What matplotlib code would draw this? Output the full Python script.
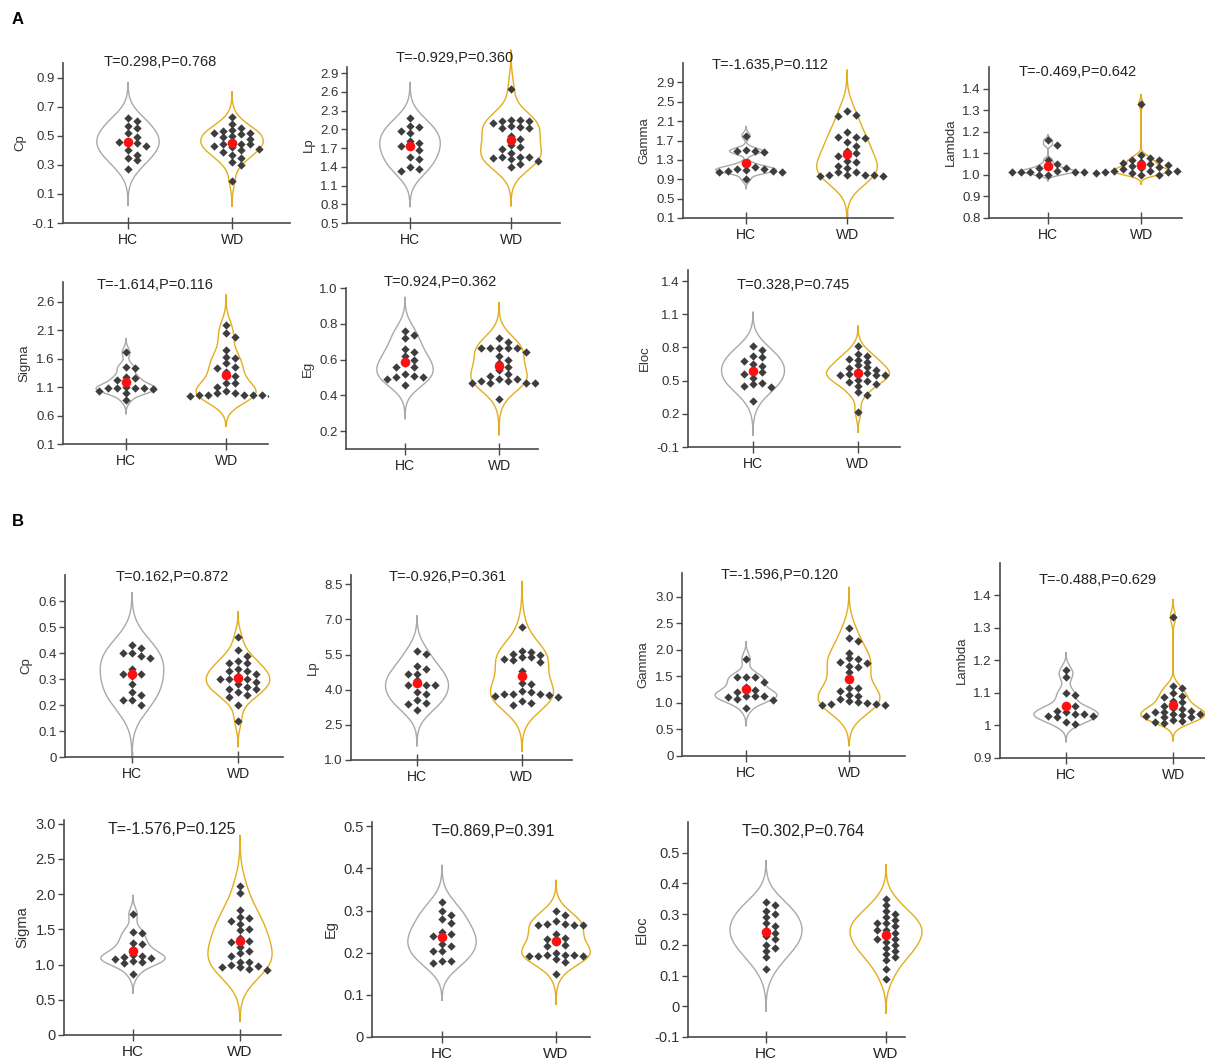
import numpy as np
import matplotlib
matplotlib.use('Agg')
import matplotlib.pyplot as plt

plt.rcParams['font.family'] = ['Liberation Sans', 'DejaVu Sans']

groups = ['HC', 'WD']

# ---- Section A ----
cp_a_hc = [0.62, 0.60, 0.57, 0.55, 0.52, 0.49, 0.46, 0.46, 0.45, 0.43, 0.40, 0.37, 0.35, 0.33, 0.27]
cp_a_wd = [0.63, 0.58, 0.55, 0.54, 0.53, 0.52, 0.52, 0.51, 0.50, 0.49, 0.48, 0.46, 0.44, 0.44,
           0.44, 0.43, 0.42, 0.41, 0.40, 0.39, 0.37, 0.35, 0.32, 0.30, 0.19]
lp_a_hc = [2.18, 2.05, 2.04, 1.97, 1.94, 1.82, 1.78, 1.73, 1.73, 1.67, 1.55, 1.52, 1.40, 1.37, 1.34]
lp_a_wd = [2.65, 2.15, 2.15, 2.14, 2.13, 2.10, 2.05, 2.04, 2.03, 2.02, 1.90, 1.85, 1.75, 1.72,
           1.68, 1.62, 1.56, 1.55, 1.55, 1.54, 1.53, 1.50, 1.45, 1.40]
gamma_a_hc = [1.80, 1.50, 1.48, 1.48, 1.47, 1.22, 1.15, 1.12, 1.12, 1.10, 1.08, 1.07, 1.06, 1.05, 0.90]
gamma_a_wd = [2.31, 2.22, 2.20, 1.87, 1.78, 1.77, 1.76, 1.67, 1.58, 1.48, 1.44, 1.37, 1.27, 1.26,
              1.18, 1.14, 1.05, 1.04, 0.98, 0.98, 0.97, 0.98, 0.97, 0.98]
lambda_a_hc = [1.16, 1.14, 1.07, 1.05, 1.04, 1.03, 1.03, 1.02, 1.015, 1.015, 1.015, 1.015, 1.015, 1.0, 1.0]
lambda_a_wd = [1.33, 1.09, 1.08, 1.07, 1.07, 1.06, 1.055, 1.05, 1.045, 1.04, 1.035, 1.03, 1.025,
               1.02, 1.02, 1.02, 1.015, 1.015, 1.015, 1.01, 1.01, 1.01, 1.0, 1.0]
sigma_a_hc = [1.71, 1.45, 1.44, 1.27, 1.26, 1.22, 1.10, 1.09, 1.09, 1.08, 1.08, 1.06, 1.04, 1.00, 0.88]
sigma_a_wd = [2.19, 2.05, 1.99, 1.76, 1.63, 1.62, 1.53, 1.45, 1.44, 1.37, 1.30, 1.18, 1.17, 1.10,
              1.04, 1.00, 0.99, 0.97, 0.96, 0.96, 0.96, 0.96, 0.95, 0.95]
eg_a_hc = [0.76, 0.74, 0.72, 0.66, 0.64, 0.62, 0.60, 0.58, 0.56, 0.56, 0.52, 0.51, 0.50, 0.50, 0.49, 0.46]
eg_a_wd = [0.72, 0.70, 0.665, 0.665, 0.665, 0.665, 0.665, 0.64, 0.62, 0.60, 0.58, 0.56, 0.54, 0.52,
           0.51, 0.49, 0.49, 0.48, 0.48, 0.47, 0.47, 0.47, 0.47, 0.38]
eloc_a_hc = [0.81, 0.78, 0.72, 0.71, 0.68, 0.65, 0.63, 0.60, 0.58, 0.56, 0.52, 0.48, 0.47, 0.45, 0.44, 0.32]
eloc_a_wd = [0.81, 0.74, 0.72, 0.70, 0.69, 0.67, 0.64, 0.62, 0.61, 0.60, 0.58, 0.57, 0.56, 0.55,
             0.55, 0.55, 0.51, 0.50, 0.49, 0.47, 0.45, 0.40, 0.37, 0.22]

# ---- Section B ----
cp_b_hc = [0.43, 0.42, 0.40, 0.40, 0.39, 0.38, 0.34, 0.32, 0.32, 0.31, 0.28, 0.25, 0.24, 0.22, 0.22, 0.20]
cp_b_wd = [0.46, 0.41, 0.39, 0.37, 0.36, 0.36, 0.34, 0.33, 0.33, 0.32, 0.31, 0.30, 0.30, 0.30,
           0.29, 0.28, 0.27, 0.26, 0.26, 0.25, 0.24, 0.23, 0.20, 0.14]
lp_b_hc = [5.64, 5.54, 5.00, 4.88, 4.68, 4.66, 4.40, 4.22, 4.20, 4.19, 3.90, 3.80, 3.55, 3.43, 3.40, 3.14]
lp_b_wd = [6.67, 5.64, 5.63, 5.52, 5.50, 5.40, 5.38, 5.30, 5.28, 5.20, 4.80, 4.30, 4.25, 3.93,
           3.90, 3.82, 3.80, 3.80, 3.78, 3.72, 3.70, 3.52, 3.45, 3.35]
gamma_b_hc = [1.83, 1.49, 1.49, 1.48, 1.40, 1.30, 1.24, 1.20, 1.14, 1.13, 1.13, 1.12, 1.08, 1.06, 0.90]
gamma_b_wd = [2.41, 2.22, 2.17, 1.95, 1.84, 1.83, 1.77, 1.76, 1.70, 1.68, 1.58, 1.29, 1.28, 1.22,
              1.15, 1.13, 1.07, 1.03, 1.02, 0.99, 0.98, 0.98, 0.97, 0.97]
lambda_b_hc = [1.17, 1.15, 1.10, 1.095, 1.06, 1.06, 1.045, 1.04, 1.035, 1.035, 1.03, 1.03, 1.025, 1.01, 1.005]
lambda_b_wd = [1.333, 1.12, 1.114, 1.10, 1.09, 1.088, 1.075, 1.072, 1.06, 1.055, 1.05, 1.045,
               1.042, 1.04, 1.036, 1.035, 1.033, 1.03, 1.027, 1.025, 1.018, 1.015, 1.012, 1.008]
sigma_b_hc = [1.71, 1.46, 1.44, 1.31, 1.29, 1.22, 1.13, 1.12, 1.11, 1.09, 1.08, 1.05, 1.03, 1.02, 0.87]
sigma_b_wd = [2.11, 2.02, 1.78, 1.68, 1.66, 1.62, 1.57, 1.51, 1.49, 1.38, 1.34, 1.32, 1.25, 1.19,
              1.17, 1.12, 1.04, 1.03, 0.99, 0.98, 0.97, 0.96, 0.93, 0.92]
eg_b_hc = [0.32, 0.30, 0.29, 0.28, 0.27, 0.25, 0.245, 0.24, 0.235, 0.22, 0.215, 0.205, 0.205, 0.18, 0.18, 0.175]
eg_b_wd = [0.30, 0.29, 0.275, 0.267, 0.267, 0.266, 0.266, 0.265, 0.245, 0.235, 0.232, 0.225,
           0.218, 0.215, 0.20, 0.195, 0.194, 0.194, 0.193, 0.193, 0.192, 0.186, 0.178, 0.15]
eloc_b_hc = [0.34, 0.33, 0.31, 0.30, 0.29, 0.27, 0.26, 0.25, 0.24, 0.23, 0.22, 0.20, 0.19, 0.18, 0.16, 0.12]
eloc_b_wd = [0.35, 0.33, 0.31, 0.30, 0.29, 0.28, 0.27, 0.27, 0.26, 0.25, 0.25, 0.24, 0.23, 0.22,
             0.22, 0.21, 0.20, 0.19, 0.18, 0.17, 0.16, 0.15, 0.12, 0.09]

titles = ['T=0.298,P=0.768', 'T=-0.929,P=0.360', 'T=-1.635,P=0.112', 'T=-0.469,P=0.642',
          'T=-1.614,P=0.116', 'T=0.924,P=0.362', 'T=0.328,P=0.745',
          'T=0.162,P=0.872', 'T=-0.926,P=0.361', 'T=-1.596,P=0.120', 'T=-0.488,P=0.629',
          'T=-1.576,P=0.125', 'T=0.869,P=0.391', 'T=0.302,P=0.764']
ylabels = ['Cp', 'Lp', 'Gamma', 'Lambda', 'Sigma', 'Eg', 'Eloc'] * 2
series = [(cp_a_hc, cp_a_wd), (lp_a_hc, lp_a_wd), (gamma_a_hc, gamma_a_wd), (lambda_a_hc, lambda_a_wd),
          (sigma_a_hc, sigma_a_wd), (eg_a_hc, eg_a_wd), (eloc_a_hc, eloc_a_wd),
          (cp_b_hc, cp_b_wd), (lp_b_hc, lp_b_wd), (gamma_b_hc, gamma_b_wd), (lambda_b_hc, lambda_b_wd),
          (sigma_b_hc, sigma_b_wd), (eg_b_hc, eg_b_wd), (eloc_b_hc, eloc_b_wd)]
yticks = [
    (['-0.1', '0.1', '0.3', '0.5', '0.7', '0.9'], (-0.1, 1.0)),
    (['0.5', '0.8', '1.1', '1.4', '1.7', '2.0', '2.3', '2.6', '2.9'], (0.5, 3.0)),
    (['0.1', '0.5', '0.9', '1.3', '1.7', '2.1', '2.5', '2.9'], (0.1, 3.3)),
    (['0.8', '0.9', '1.0', '1.1', '1.2', '1.3', '1.4'], (0.8, 1.5)),
    (['0.1', '0.6', '1.1', '1.6', '2.1', '2.6'], (0.1, 2.95)),
    (['0.2', '0.4', '0.6', '0.8', '1.0'], (0.1, 1.0)),
    (['-0.1', '0.2', '0.5', '0.8', '1.1', '1.4'], (-0.1, 1.5)),
    (['0', '0.1', '0.2', '0.3', '0.4', '0.5', '0.6'], (0, 0.7)),
    (['1.0', '2.5', '4.0', '5.5', '7.0', '8.5'], (1.0, 8.9)),
    (['0', '0.5', '1.0', '1.5', '2.0', '2.5', '3.0'], (0, 3.45)),
    (['0.9', '1', '1.1', '1.2', '1.3', '1.4'], (0.9, 1.5)),
    (['0', '0.5', '1.0', '1.5', '2.0', '2.5', '3.0'], (0, 3.05)),
    (['0', '0.1', '0.2', '0.3', '0.4', '0.5'], (0, 0.51)),
    (['-0.1', '0', '0.1', '0.2', '0.3', '0.4', '0.5'], (-0.1, 0.6)),
]

# layout in pixels: left, right, top, bottom, HC x, WD x, title x, title y
layout = [
    (63, 290, 63, 223, 128, 232, 160, 62),
    (347, 560, 67, 223, 410, 511, 455, 58),
    (683, 893, 63, 218, 746, 847, 770, 65),
    (989, 1182, 67, 218, 1048, 1141, 1078, 72),
    (63, 268, 282, 444, 126, 226, 155, 285),
    (346, 538, 288, 449, 405, 499, 440, 282),
    (688, 900, 270, 447, 753, 858, 793, 285),
    (65, 283, 575, 757, 132, 238, 172, 577),
    (351, 572, 575, 760, 417, 522, 448, 577),
    (682, 905, 573, 756, 746, 849, 780, 575),
    (1000, 1205, 563, 758, 1066, 1173, 1098, 580),
    (64, 281, 820, 1035, 133, 240, 172, 829),
    (372, 590, 822, 1037, 442, 556, 493, 831),
    (688, 905, 822, 1037, 766, 886, 803, 832),
]

W, H = 1205, 1064
fig = plt.figure(figsize=(W / 100, H / 100), dpi=100)
axis_col = '#4a4a4a'
hc_col = '#a9a9a9'
wd_col = '#e3ad1c'


def kde_outline(vals):
    v = np.asarray(vals, float)
    n = len(v)
    mad = np.median(np.abs(v - np.median(v)))
    sig = mad / 0.6745 if mad > 0 else v.std()
    bw = sig * (4 / (3 * n)) ** 0.2
    y = np.linspace(v.min() - 3 * bw, v.max() + 3 * bw, 300)
    d = np.exp(-0.5 * ((y[:, None] - v[None, :]) / bw) ** 2).sum(1)
    return y, d / d.max()


def swarm_x(ax, x0, vals, min_d=5.5, step=9.0):
    v = np.asarray(vals, float)
    pts = ax.transData.transform(np.column_stack([np.full(len(v), x0), v]))
    placed = []
    out = pts.copy()
    for i in np.argsort(-v):
        px, py = pts[i]
        k = 0
        found = None
        while found is None:
            offs = [0.0] if k == 0 else [k * step, -k * step]
            for o in offs:
                if all((px + o - qx) ** 2 + (py - qy) ** 2 >= min_d ** 2 for qx, qy in placed):
                    found = o
                    break
            k += 1
        placed.append((px + found, py))
        out[i, 0] = px + found
    return ax.transData.inverted().transform(out)[:, 0]


for idx in range(14):
    l, r, t, b, hx, wx, tx, ty = layout[idx]
    ax = fig.add_axes([l / W, 1 - b / H, (r - l) / W, (b - t) / H])
    sp = wx - hx
    ax.set_xlim(1 - (hx - l) / sp, 2 + (r - wx) / sp)
    labels, ylim = yticks[idx]
    ax.set_ylim(*ylim)
    ax.set_yticks([float(s) for s in labels])
    big = idx >= 11
    fs = 10.5 if big else 9.5
    ax.set_yticklabels(labels, fontsize=fs, color='#333333')
    ax.set_xticks([1, 2])
    ax.set_xticklabels(groups, fontsize=fs + 0.5, color='#222222')
    for s in ['top', 'right']:
        ax.spines[s].set_visible(False)
    for s in ['left', 'bottom']:
        ax.spines[s].set_color(axis_col)
        ax.spines[s].set_linewidth(1.2)
    ax.tick_params(axis='y', direction='out', length=4, width=1, color=axis_col, pad=2)
    ax.tick_params(axis='x', direction='inout', length=8, width=1, color=axis_col, pad=3)
    ax.set_ylabel(ylabels[idx], fontsize=fs, labelpad=4, color='#333333')

    for gi, (vals, col) in enumerate(zip(series[idx], [hc_col, wd_col])):
        pos = gi + 1
        yy, dd = kde_outline(vals)
        half = 0.3 * dd
        ax.plot(np.concatenate([pos - half, (pos + half)[::-1], [pos - half[0]]]),
                np.concatenate([yy, yy[::-1], [yy[0]]]), color=col, lw=1.0, zorder=2,
                clip_on=False)
        xs = swarm_x(ax, pos, vals)
        ax.scatter(xs, vals, marker='D', s=18, color='#3d3d3d', zorder=3, linewidths=0)
        ax.scatter([pos], [np.mean(vals)], marker='o', s=48, color='#ff1010', zorder=4, linewidths=0)

    fig.text(tx / W, 1 - ty / H, titles[idx], fontsize=11.5 if big else 10.5, ha='center',
             va='center', color='#222222')

fig.text(12 / W, 1 - 20 / H, 'A', fontsize=12, fontweight='bold', ha='left', va='center')
fig.text(12 / W, 1 - 522 / H, 'B', fontsize=12, fontweight='bold', ha='left', va='center')

fig.savefig('out.png', dpi=100)
